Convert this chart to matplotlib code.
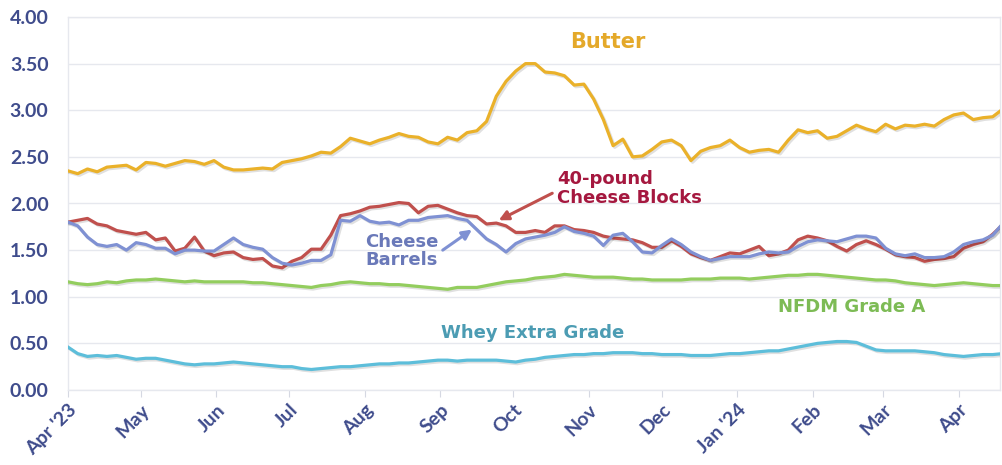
import matplotlib
matplotlib.use("Agg")
import matplotlib.pyplot as plt
import matplotlib.patheffects as pe
import pandas as pd

# ---- data (4-day sampling) ----
start_date = "2023-04-01"
n_points = 97

butter = [2.35, 2.32, 2.37, 2.34, 2.39, 2.40, 2.41, 2.36, 2.44, 2.43,
          2.40, 2.43, 2.46, 2.45, 2.42, 2.46, 2.39, 2.36, 2.36, 2.37,
          2.38, 2.37, 2.44, 2.46, 2.48, 2.51, 2.55, 2.54, 2.61, 2.70,
          2.67, 2.64, 2.68, 2.71, 2.75, 2.72, 2.71, 2.66, 2.64, 2.71,
          2.68, 2.76, 2.78, 2.88, 3.15, 3.31, 3.42, 3.50, 3.50, 3.41,
          3.40, 3.37, 3.27, 3.28, 3.12, 2.90, 2.62, 2.69, 2.50, 2.51,
          2.58, 2.66, 2.68, 2.62, 2.46, 2.56, 2.60, 2.62, 2.68, 2.60,
          2.55, 2.57, 2.58, 2.55, 2.68, 2.79, 2.76, 2.78, 2.70, 2.72,
          2.78, 2.84, 2.80, 2.77, 2.85, 2.80, 2.84, 2.83, 2.85, 2.83,
          2.90, 2.95, 2.97, 2.90, 2.92, 2.93, 3.01]

blocks = [1.80, 1.82, 1.84, 1.78, 1.76, 1.71, 1.69, 1.67, 1.69, 1.61,
          1.63, 1.49, 1.52, 1.64, 1.49, 1.44, 1.47, 1.48, 1.42, 1.40,
          1.41, 1.33, 1.31, 1.38, 1.42, 1.51, 1.51, 1.66, 1.87, 1.89,
          1.92, 1.96, 1.97, 1.99, 2.01, 2.00, 1.90, 1.97, 1.98, 1.94,
          1.90, 1.87, 1.86, 1.78, 1.79, 1.76, 1.69, 1.69, 1.71, 1.69,
          1.76, 1.76, 1.72, 1.71, 1.69, 1.65, 1.63, 1.62, 1.61, 1.58,
          1.53, 1.53, 1.60, 1.54, 1.46, 1.42, 1.39, 1.43, 1.47, 1.46,
          1.50, 1.54, 1.44, 1.46, 1.50, 1.61, 1.65, 1.63, 1.60, 1.54,
          1.49, 1.56, 1.60, 1.56, 1.51, 1.45, 1.43, 1.42, 1.38, 1.40,
          1.41, 1.43, 1.52, 1.56, 1.59, 1.67, 1.77]

barrels = [1.80, 1.76, 1.64, 1.56, 1.54, 1.56, 1.50, 1.58, 1.56, 1.52,
           1.52, 1.46, 1.50, 1.50, 1.49, 1.49, 1.56, 1.63, 1.56, 1.53,
           1.51, 1.42, 1.36, 1.34, 1.36, 1.39, 1.39, 1.45, 1.82, 1.81,
           1.87, 1.81, 1.79, 1.80, 1.77, 1.82, 1.82, 1.85, 1.86, 1.87,
           1.84, 1.82, 1.72, 1.62, 1.56, 1.48, 1.57, 1.62, 1.64, 1.66,
           1.69, 1.75, 1.70, 1.68, 1.65, 1.55, 1.66, 1.68, 1.59, 1.48,
           1.47, 1.55, 1.62, 1.56, 1.48, 1.43, 1.39, 1.41, 1.43, 1.43,
           1.43, 1.46, 1.48, 1.47, 1.48, 1.54, 1.59, 1.61, 1.60, 1.59,
           1.62, 1.65, 1.65, 1.63, 1.52, 1.46, 1.44, 1.46, 1.42, 1.42,
           1.43, 1.48, 1.56, 1.59, 1.61, 1.66, 1.78]

nfdm = [1.16, 1.14, 1.13, 1.14, 1.16, 1.15, 1.17, 1.18, 1.18, 1.19,
        1.18, 1.17, 1.16, 1.17, 1.16, 1.16, 1.16, 1.16, 1.16, 1.15,
        1.15, 1.14, 1.13, 1.12, 1.11, 1.10, 1.12, 1.13, 1.15, 1.16,
        1.15, 1.14, 1.14, 1.13, 1.13, 1.12, 1.11, 1.10, 1.09, 1.08,
        1.10, 1.10, 1.10, 1.12, 1.14, 1.16, 1.17, 1.18, 1.20, 1.21,
        1.22, 1.24, 1.23, 1.22, 1.21, 1.21, 1.21, 1.20, 1.19, 1.19,
        1.18, 1.18, 1.18, 1.18, 1.19, 1.19, 1.19, 1.20, 1.20, 1.20,
        1.19, 1.20, 1.21, 1.22, 1.23, 1.23, 1.24, 1.24, 1.23, 1.22,
        1.21, 1.20, 1.19, 1.18, 1.18, 1.17, 1.15, 1.14, 1.13, 1.12,
        1.13, 1.14, 1.15, 1.14, 1.13, 1.12, 1.12]

whey = [0.46, 0.39, 0.36, 0.37, 0.36, 0.37, 0.35, 0.33, 0.34, 0.34,
        0.32, 0.30, 0.28, 0.27, 0.28, 0.28, 0.29, 0.30, 0.29, 0.28,
        0.27, 0.26, 0.25, 0.25, 0.23, 0.22, 0.23, 0.24, 0.25, 0.25,
        0.26, 0.27, 0.28, 0.28, 0.29, 0.29, 0.30, 0.31, 0.32, 0.32,
        0.31, 0.32, 0.32, 0.32, 0.32, 0.31, 0.30, 0.32, 0.33, 0.35,
        0.36, 0.37, 0.38, 0.38, 0.39, 0.39, 0.40, 0.40, 0.40, 0.39,
        0.39, 0.38, 0.38, 0.38, 0.37, 0.37, 0.37, 0.38, 0.39, 0.39,
        0.40, 0.41, 0.42, 0.42, 0.44, 0.46, 0.48, 0.50, 0.51, 0.52,
        0.52, 0.51, 0.47, 0.43, 0.42, 0.42, 0.42, 0.42, 0.41, 0.40,
        0.38, 0.37, 0.36, 0.37, 0.38, 0.38, 0.39]

tick_dates = ["2023-04-01", "2023-05-01", "2023-06-01", "2023-07-01", "2023-08-01",
              "2023-09-01", "2023-10-01", "2023-11-01", "2023-12-01", "2024-01-01",
              "2024-02-01", "2024-03-01", "2024-04-01"]
tick_labels = ["Apr '23", "May", "Jun", "Jul", "Aug", "Sep", "Oct", "Nov", "Dec",
               "Jan '24", "Feb", "Mar", "Apr"]
y_ticks = [0.0, 0.5, 1.0, 1.5, 2.0, 2.5, 3.0, 3.5, 4.0]

dates = pd.date_range(start_date, periods=n_points, freq="4D")

# ---- styling ----
c_butter = "#EAB12A"
c_blocks = "#C0504D"
c_barrels = "#7F91D3"
c_nfdm = "#93CD5E"
c_whey = "#5DBEDA"
tick_color = "#3F4C8C"
grid_color = "#E6E8EE"

fig = plt.figure(figsize=(10.03, 4.65), dpi=100)
ax = fig.add_axes([68 / 1003, 1 - 390 / 465, (1000 - 68) / 1003, (390 - 17) / 465])

lw = 2.3
shadow = [pe.SimpleLineShadow(offset=(1.2, -1.2), alpha=0.12, shadow_color="black"), pe.Normal()]
for vals, col in [(whey, c_whey), (nfdm, c_nfdm), (butter, c_butter),
                  (blocks, c_blocks), (barrels, c_barrels)]:
    ax.plot(dates, vals, color=col, lw=lw, solid_joinstyle="round", zorder=3,
            path_effects=shadow)

ax.set_ylim(0, 4.0)
ax.set_xlim(pd.Timestamp("2023-04-01"), pd.Timestamp("2024-04-18"))
ax.set_yticks(y_ticks)
ax.set_yticklabels([f"{v:.2f}" for v in y_ticks])
ax.set_xticks(pd.to_datetime(tick_dates))
ax.set_xticklabels(tick_labels, rotation=45, ha="right", rotation_mode="anchor")

ax.grid(axis="y", color=grid_color, lw=1.0, zorder=0)
for s in ax.spines.values():
    s.set_color(grid_color)
    s.set_linewidth(1.0)

font = "Lato"
for lab in ax.get_yticklabels() + ax.get_xticklabels():
    lab.set_fontfamily(font)
    lab.set_fontweight("bold")
    lab.set_fontsize(14)
    lab.set_color(tick_color)
ax.tick_params(axis="y", length=0, pad=14)
ax.tick_params(axis="x", length=5, color="#D5D8E2", pad=3)

# ---- annotations ----
afont = dict(fontfamily="DejaVu Sans", fontweight="bold")
ax.text(pd.Timestamp("2023-11-09"), 3.73, "Butter", color="#E4A92A", fontsize=15,
        ha="center", va="center", **afont)
ax.text(pd.Timestamp("2023-10-19"), 2.16, "40-pound\nCheese Blocks", color="#A5183F",
        fontsize=13, ha="left", va="center", linespacing=1.05, **afont)
ax.annotate("", xy=(pd.Timestamp("2023-09-25"), 1.82), xytext=(pd.Timestamp("2023-10-17"), 2.11),
            arrowprops=dict(arrowstyle="-|>", color=c_blocks, lw=2.2, mutation_scale=14,
                            shrinkA=0, shrinkB=0))
ax.text(pd.Timestamp("2023-08-16"), 1.49, "Cheese\nBarrels", color="#6A79B9",
        fontsize=13, ha="center", va="center", linespacing=1.0, **afont)
ax.annotate("", xy=(pd.Timestamp("2023-09-14"), 1.72), xytext=(pd.Timestamp("2023-09-02"), 1.50),
            arrowprops=dict(arrowstyle="-|>", color=c_barrels, lw=2.2, mutation_scale=14,
                            shrinkA=0, shrinkB=0))
ax.text(pd.Timestamp("2024-02-17"), 0.89, "NFDM Grade A", color="#7DBB55",
        fontsize=13, ha="center", va="center", **afont)
ax.text(pd.Timestamp("2023-10-09"), 0.61, "Whey Extra Grade", color="#4C9CB3",
        fontsize=13, ha="center", va="center", **afont)

fig.savefig("out.png", dpi=100, facecolor="white")
